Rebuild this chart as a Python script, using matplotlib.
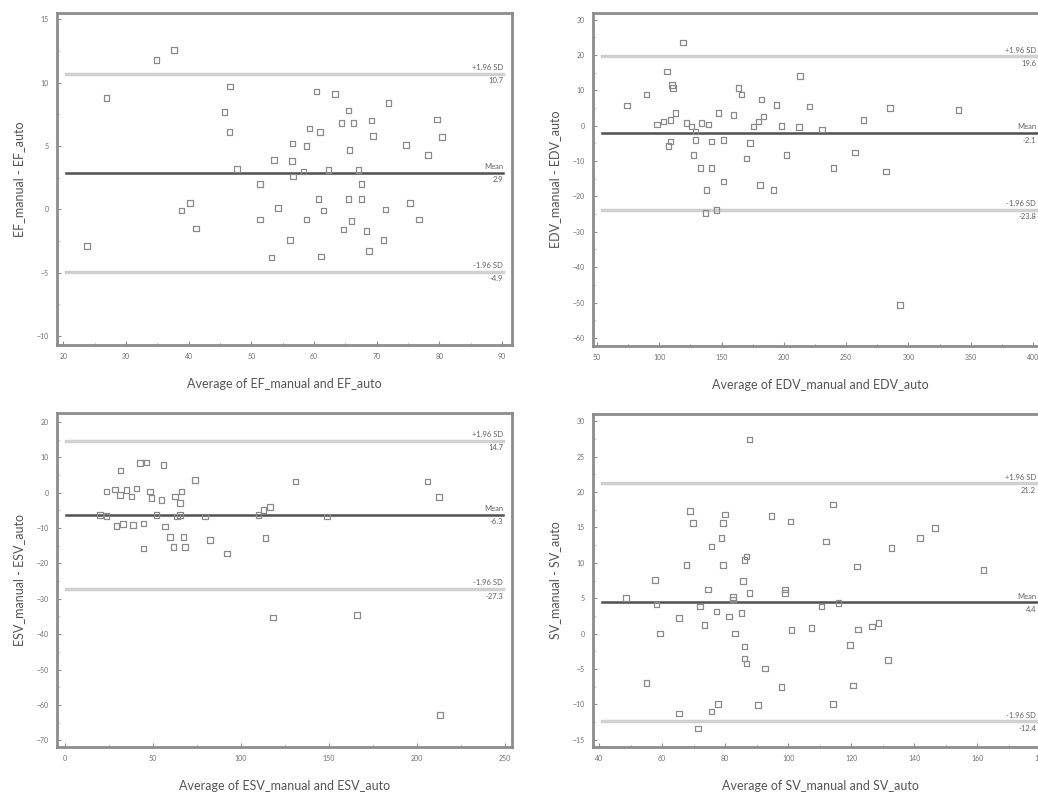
import matplotlib.pyplot as plt
from matplotlib.ticker import AutoMinorLocator

plt.rcParams['font.family'] = ['Lato', 'DejaVu Sans']

# EF (%)
ef_avg = [23.8, 26.9, 34.9, 37.7, 38.9, 40.2, 41.2, 45.7, 46.6, 46.5, 47.7, 51.4, 51.4, 53.2,
          53.6, 54.3, 56.2, 56.6, 56.5, 56.7, 58.3, 58.8, 58.8, 59.3, 60.4, 61.0, 60.7, 61.5,
          61.1, 62.3, 63.4, 64.4, 65.5, 66.3, 65.7, 64.7, 66.0, 65.5, 67.1, 67.6, 68.4, 68.8,
          69.2, 69.4, 67.6, 71.1, 71.4, 71.9, 74.7, 75.3, 76.8, 78.2, 79.6, 80.4]
ef_diff = [-2.9, 8.8, 11.8, 12.6, -0.1, 0.5, -1.5, 7.7, 9.7, 6.1, 3.2, 2.0, -0.8, -3.8,
           3.9, 0.1, -2.4, 5.2, 3.8, 2.6, 3.0, 5.0, -0.8, 6.4, 9.3, 6.1, 0.8, -0.1,
           -3.7, 3.1, 9.1, 6.8, 7.8, 6.8, 4.7, -1.6, -0.9, 0.8, 3.1, 2.0, -1.7, -3.3,
           7.0, 5.8, 0.8, -2.4, 0.0, 8.4, 5.1, 0.5, -0.8, 4.3, 7.1, 5.7]
ef_stats = [2.9, 10.7, -4.9]  # mean, +1.96 SD, -1.96 SD

# EDV (ml)
edv_avg = [74, 89.6, 106, 110, 111, 119, 98, 103.5, 109, 113, 109, 107.5, 122, 126, 129, 129,
           127.5, 133, 142, 134, 139.6, 142, 147.6, 151.6, 138, 151.6, 137, 146, 159.6, 163.6,
           166, 170, 173, 175.7, 179.7, 183.7, 182, 181, 191.7, 194, 198, 202, 213, 212,
           220.6, 230.5, 240, 257, 264, 282, 285, 293, 340]
edv_diff = [5.7, 8.8, 15.4, 11.6, 10.7, 23.6, 0.3, 1.2, 1.7, 3.6, -4.4, -5.8, 0.8, -0.2, -1.6, -4.0,
            -8.2, -12.0, -12.0, 0.8, 0.3, -4.4, 3.6, -4.0, -18.1, -15.8, -24.7, -23.8, 3.1, 10.7,
            8.8, -9.2, -4.9, -0.2, 1.2, 2.6, 7.4, -16.7, -18.1, 5.9, 0.0, -8.2, 14.0, -0.4,
            5.5, -1.1, -12.0, -7.5, 1.7, -12.9, 5.0, -50.7, 4.5]
edv_stats = [-2.1, 19.6, -23.8]

# ESV (ml)
esv_avg = [31.7, 42.7, 46.5, 56, 74, 23.7, 28.5, 31.3, 35, 38, 40.8, 48.4, 49.3, 55, 62.6, 66.4,
           65.5, 20, 23.7, 29.4, 33.2, 38.9, 44.6, 52.2, 57, 63.6, 65.5, 59.8, 67.4, 44.6, 61.7,
           68.3, 79.7, 82.5, 92, 110, 113, 116.7, 113.9, 118.2, 131, 149, 166, 206, 212.5, 213]
esv_diff = [6.2, 8.3, 8.5, 7.8, 3.6, 0.3, 0.9, -0.7, 0.8, -1.1, 1.2, 0.3, -1.6, -2.1, -1.1, 0.3,
            -3.0, -6.3, -6.6, -9.4, -8.9, -9.2, -8.7, -6.3, -9.6, -6.8, -6.3, -12.5, -12.5, -15.8, -15.3,
            -15.3, -6.8, -13.4, -17.2, -6.3, -4.9, -4.0, -12.9, -35.3, 3.1, -6.8, -34.6, 3.1, -1.3, -62.9]
esv_stats = [-6.3, 14.7, -27.3]

# SV (ml)
sv_avg = [48.5, 55, 57.7, 58.2, 59.3, 65.4, 65.4, 67.7, 68.8, 69.8, 71.4, 72, 73.5, 74.6, 75.7,
          75.7, 77.8, 77.2, 78.8, 79.4, 79.9, 79.4, 81.3, 82.5, 83.1, 82.5, 85.2, 85.7, 86.2, 86.8,
          87.8, 86.2, 86.2, 86.8, 87.8, 90.5, 92.6, 94.7, 97.9, 99, 99, 101, 100.7, 107.4, 110.6,
          112, 114.3, 114.3, 115.9, 119.6, 120.6, 121.9, 122.2, 126.5, 128.6, 131.7, 132.8,
          141.8, 146.6, 161.9]
sv_diff = [5.0, -7.0, 7.6, 4.1, 0.0, 2.2, -11.3, 9.7, 17.3, 15.6, -13.4, 3.8, 1.2, 6.2, 12.3,
           -11.0, -9.9, 3.1, 13.5, 15.6, 16.8, 9.7, 2.4, 4.8, 0.0, 5.2, 2.9, 7.4, 10.4, 10.9,
           5.7, -1.8, -3.5, -4.2, 27.4, -10.1, -4.9, 16.6, -7.5, 5.7, 6.2, 0.5, 15.8, 0.8, 3.8,
           13.0, 18.2, -9.9, 4.3, -1.6, -7.3, 9.5, 0.6, 1.0, 1.5, -3.7, 12.1,
           13.5, 14.9, 9.0]
sv_stats = [4.4, 21.2, -12.4]

panels = [
    # name, avg, diff, stats, xlim, ylim, xticks, yticks, axes box in pixels (left, top, right, bottom)
    ("EF", ef_avg, ef_diff, ef_stats, (19.0, 91.6), (-10.7, 15.5),
     range(20, 91, 10), range(-10, 16, 5), (57, 13, 512, 345)),
    ("EDV", edv_avg, edv_diff, edv_stats, (46.8, 412), (-62.3, 31.9),
     range(50, 401, 50), range(-60, 31, 10), (593, 13, 1048, 346)),
    ("ESV", esv_avg, esv_diff, esv_stats, (-4.4, 254), (-71.9, 22.5),
     range(0, 251, 50), range(-70, 21, 10), (57, 413, 512, 747)),
    ("SV", sv_avg, sv_diff, sv_stats, (38.1, 182.4), (-16.0, 31.0),
     range(40, 181, 20), range(-15, 31, 5), (593, 414, 1048, 747)),
]

W, H = 1038, 799
fig = plt.figure(figsize=(W / 100, H / 100), dpi=100)

for name, avg, diff, stats, xlim, ylim, xt, yt, (l, t, r, b) in panels:
    ax = fig.add_axes([l / W, 1 - b / H, (r - l) / W, (b - t) / H])
    ax.scatter(avg, diff, marker='s', s=16, facecolors='none', edgecolors='#8a8a8a',
               linewidths=0.9, zorder=3)

    mean, upper, lower = stats
    ax.axhline(mean, xmin=0.02, xmax=0.98, color='#505050', lw=1.8, zorder=2)
    ax.axhline(upper, xmin=0.02, xmax=0.98, color='#d0d0d0', lw=2.5, zorder=2)
    ax.axhline(lower, xmin=0.02, xmax=0.98, color='#d0d0d0', lw=2.5, zorder=2)

    # labels sit at the right end of each line; the right column is cut by the figure edge
    xr = 0.98 if l < 500 else (1036 - l) / (r - l)
    tr = ax.get_yaxis_transform()
    for val, top_txt in [(upper, "+1.96 SD"), (mean, "Mean"), (lower, "-1.96 SD")]:
        ax.annotate(top_txt, (xr, val), xycoords=tr, xytext=(0, 2), textcoords='offset points',
                    ha='right', va='bottom', fontsize=5.5, color='#606060')
        ax.annotate("%.1f" % val, (xr, val), xycoords=tr, xytext=(0, -2.5),
                    textcoords='offset points', ha='right', va='top', fontsize=5.5,
                    color='#606060')

    ax.set_xlim(*xlim)
    ax.set_ylim(*ylim)
    ax.set_xticks(list(xt))
    ax.set_yticks(list(yt))
    ax.xaxis.set_minor_locator(AutoMinorLocator(2))
    ax.yaxis.set_minor_locator(AutoMinorLocator(2))
    ax.tick_params(which='both', direction='in', colors='#909090', labelcolor='#707070',
                   labelsize=5, length=3, width=0.8, pad=6)
    ax.tick_params(which='minor', length=1.5)
    for sp in ax.spines.values():
        sp.set_color('#8c8c8c')
        sp.set_linewidth(2)

    ax.set_xlabel("Average of %s_manual and %s_auto" % (name, name), fontsize=9,
                  color='#555555', labelpad=13)
    ax.set_ylabel("%s_manual - %s_auto" % (name, name), fontsize=9, color='#555555',
                  labelpad=8)

fig.savefig("out.png", dpi=100)
